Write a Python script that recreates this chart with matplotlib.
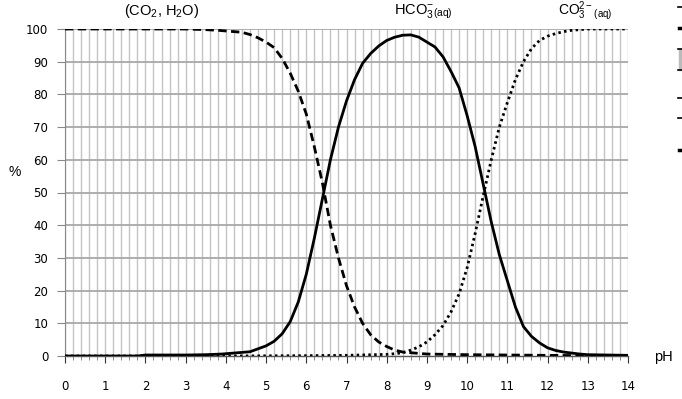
import matplotlib
matplotlib.use("Agg")
import matplotlib.pyplot as plt
from matplotlib.lines import Line2D
from matplotlib.patches import Rectangle
import numpy as np

# HCO3- (solid)
ph_hco3 = [0, 1, 1.8, 2, 3, 3.5, 3.9, 4.2, 4.6, 5.0, 5.2, 5.4, 5.6, 5.8, 6.0, 6.2, 6.4, 6.6, 6.8,
           7.0, 7.2, 7.4, 7.6, 7.8, 8.0, 8.2, 8.4, 8.6, 8.8, 9.0, 9.2, 9.4, 9.6, 9.8, 10.0, 10.2,
           10.4, 10.6, 10.8, 11.0, 11.2, 11.4, 11.6, 11.8, 12.0, 12.2, 12.4, 12.6, 12.8, 13, 14]
pct_hco3 = [0, 0, 0, 0.3, 0.3, 0.4, 0.6, 0.9, 1.3, 3.1, 4.5, 6.8, 10.5, 16.5, 25, 36, 48, 60, 70,
            78, 84.5, 89.5, 92.5, 94.8, 96.5, 97.5, 98.1, 98.2, 97.5, 96, 94.5, 91.5, 87, 82, 73.5, 64,
            52.5, 41, 31, 23, 15, 9, 6, 4, 2.5, 1.7, 1.2, 0.9, 0.6, 0.4, 0.2]

# CO2, H2O (dashed)
ph_co2 = [0, 2, 3, 3.5, 3.8, 4.0, 4.2, 4.4, 4.6, 4.8, 5.0, 5.2, 5.4, 5.6, 5.8, 6.0, 6.2, 6.4, 6.6,
          6.8, 7.0, 7.2, 7.4, 7.6, 7.8, 8.0, 8.2, 8.4, 8.6, 9, 10, 11, 12, 13, 14]
pct_co2 = [100, 100, 100, 99.8, 99.6, 99.4, 99.2, 99.0, 98.3, 97.3, 96, 94.3, 91, 86.5, 81, 74, 64,
           53, 40, 30, 21.5, 15, 10, 6.5, 4.3, 2.9, 1.8, 1.2, 1.0, 0.6, 0.4, 0.3, 0.2, 0.1, 0]

# CO3 2- (dotted)
ph_co3 = [0, 4, 6, 7, 8, 8.2, 8.4, 8.6, 8.8, 9.0, 9.2, 9.4, 9.6, 9.8, 10.0, 10.2, 10.4, 10.6, 10.8,
          11.0, 11.2, 11.4, 11.6, 11.8, 12.0, 12.2, 12.4, 12.6, 13, 14]
pct_co3 = [0, 0, 0.1, 0.2, 0.5, 0.7, 1.0, 1.8, 2.8, 4.3, 6.5, 9.3, 13.5, 19, 27, 37.5, 49, 60, 70,
           77.5, 84.5, 90, 94, 96.5, 97.8, 98.6, 99.2, 99.6, 100, 100]

x_ticks = list(range(0, 15))
y_ticks = list(range(0, 101, 10))

plt.rcParams["mathtext.fontset"] = "custom"
plt.rcParams["mathtext.rm"] = "Liberation Sans"
plt.rcParams["mathtext.it"] = "Liberation Sans"

fig = plt.figure(figsize=(6.82, 3.99), dpi=100)
ax = fig.add_axes([65/682, 1-356/399, 563/682, 327/399])
ax.set_xlim(0, 14)
ax.set_ylim(0, 100)

# grid
for xv in np.arange(0, 14.0001, 0.2):
    ax.axvline(xv, color="#c4c4c4", lw=1.0, zorder=0)
for yv in y_ticks[1:]:
    ax.axhline(yv, color="#a8a8a8", lw=1.3, zorder=0)

ax.plot(ph_co2, pct_co2, color="black", lw=2.0, ls=(0, (3, 1.6)), zorder=3)
ax.plot(ph_hco3, pct_hco3, color="black", lw=2.0, ls="-", zorder=3)
ax.plot(ph_co3, pct_co3, color="black", lw=2.0, ls=(0, (0.9, 1.2)), zorder=3)

for s in ["top", "right"]:
    ax.spines[s].set_visible(False)
ax.spines["left"].set_color("#888888")
ax.spines["bottom"].set_color("#555555")
ax.spines["bottom"].set_linewidth(1.0)

ax.set_xticks(x_ticks)
ax.set_xticks(np.arange(0, 14.0001, 0.2), minor=True)
ax.set_yticks(y_ticks)
ax.tick_params(axis="x", which="major", length=5, color="#333333", pad=12, labelsize=8.5)
ax.tick_params(axis="x", which="minor", length=3, color="#777777")
ax.tick_params(axis="y", which="major", length=6, color="#888888", pad=6, labelsize=8.5)
for lab in ax.get_xticklabels() + ax.get_yticklabels():
    lab.set_fontfamily("DejaVu Sans")

fig.text(15/682, 1-172/399, "%", fontsize=10, family="Liberation Sans", ha="center", va="center")
fig.text(663/682, 1-357/399, "pH", fontsize=10.5, family="Liberation Sans", ha="center", va="center")

ty = 1 - 15/399
fig.text(162/682, ty, r"(CO$_\mathrm{2}$, H$_\mathrm{2}$O)", fontsize=10.5, family="Liberation Sans",
         ha="center", va="baseline")
fig.text(423/682, ty, r"HCO$_\mathrm{3}^{\mathrm{-}}$$_\mathrm{(aq)}$", fontsize=10.5,
         family="Liberation Sans", ha="center", va="baseline")
fig.text(585/682, ty, r"CO$_\mathrm{3}^{\mathrm{2-}}$$_\mathrm{(aq)}$", fontsize=10,
         family="Liberation Sans", ha="center", va="baseline")

# cropped legend fragments at right edge
def hline(y, w=4, lw=1.2):
    fig.add_artist(Line2D([(682-w)/682, 1], [1-y/399, 1-y/399], color="black", lw=lw))
hline(7)
hline(28, w=3, lw=2.5)
fig.add_artist(Rectangle((679/682, 1-70/399), 3/682, 21/399, color="#bbbbbb"))
hline(49)
hline(70)
hline(98)
hline(118)
hline(150, w=3, lw=2.5)

fig.savefig("out.png", dpi=100)
